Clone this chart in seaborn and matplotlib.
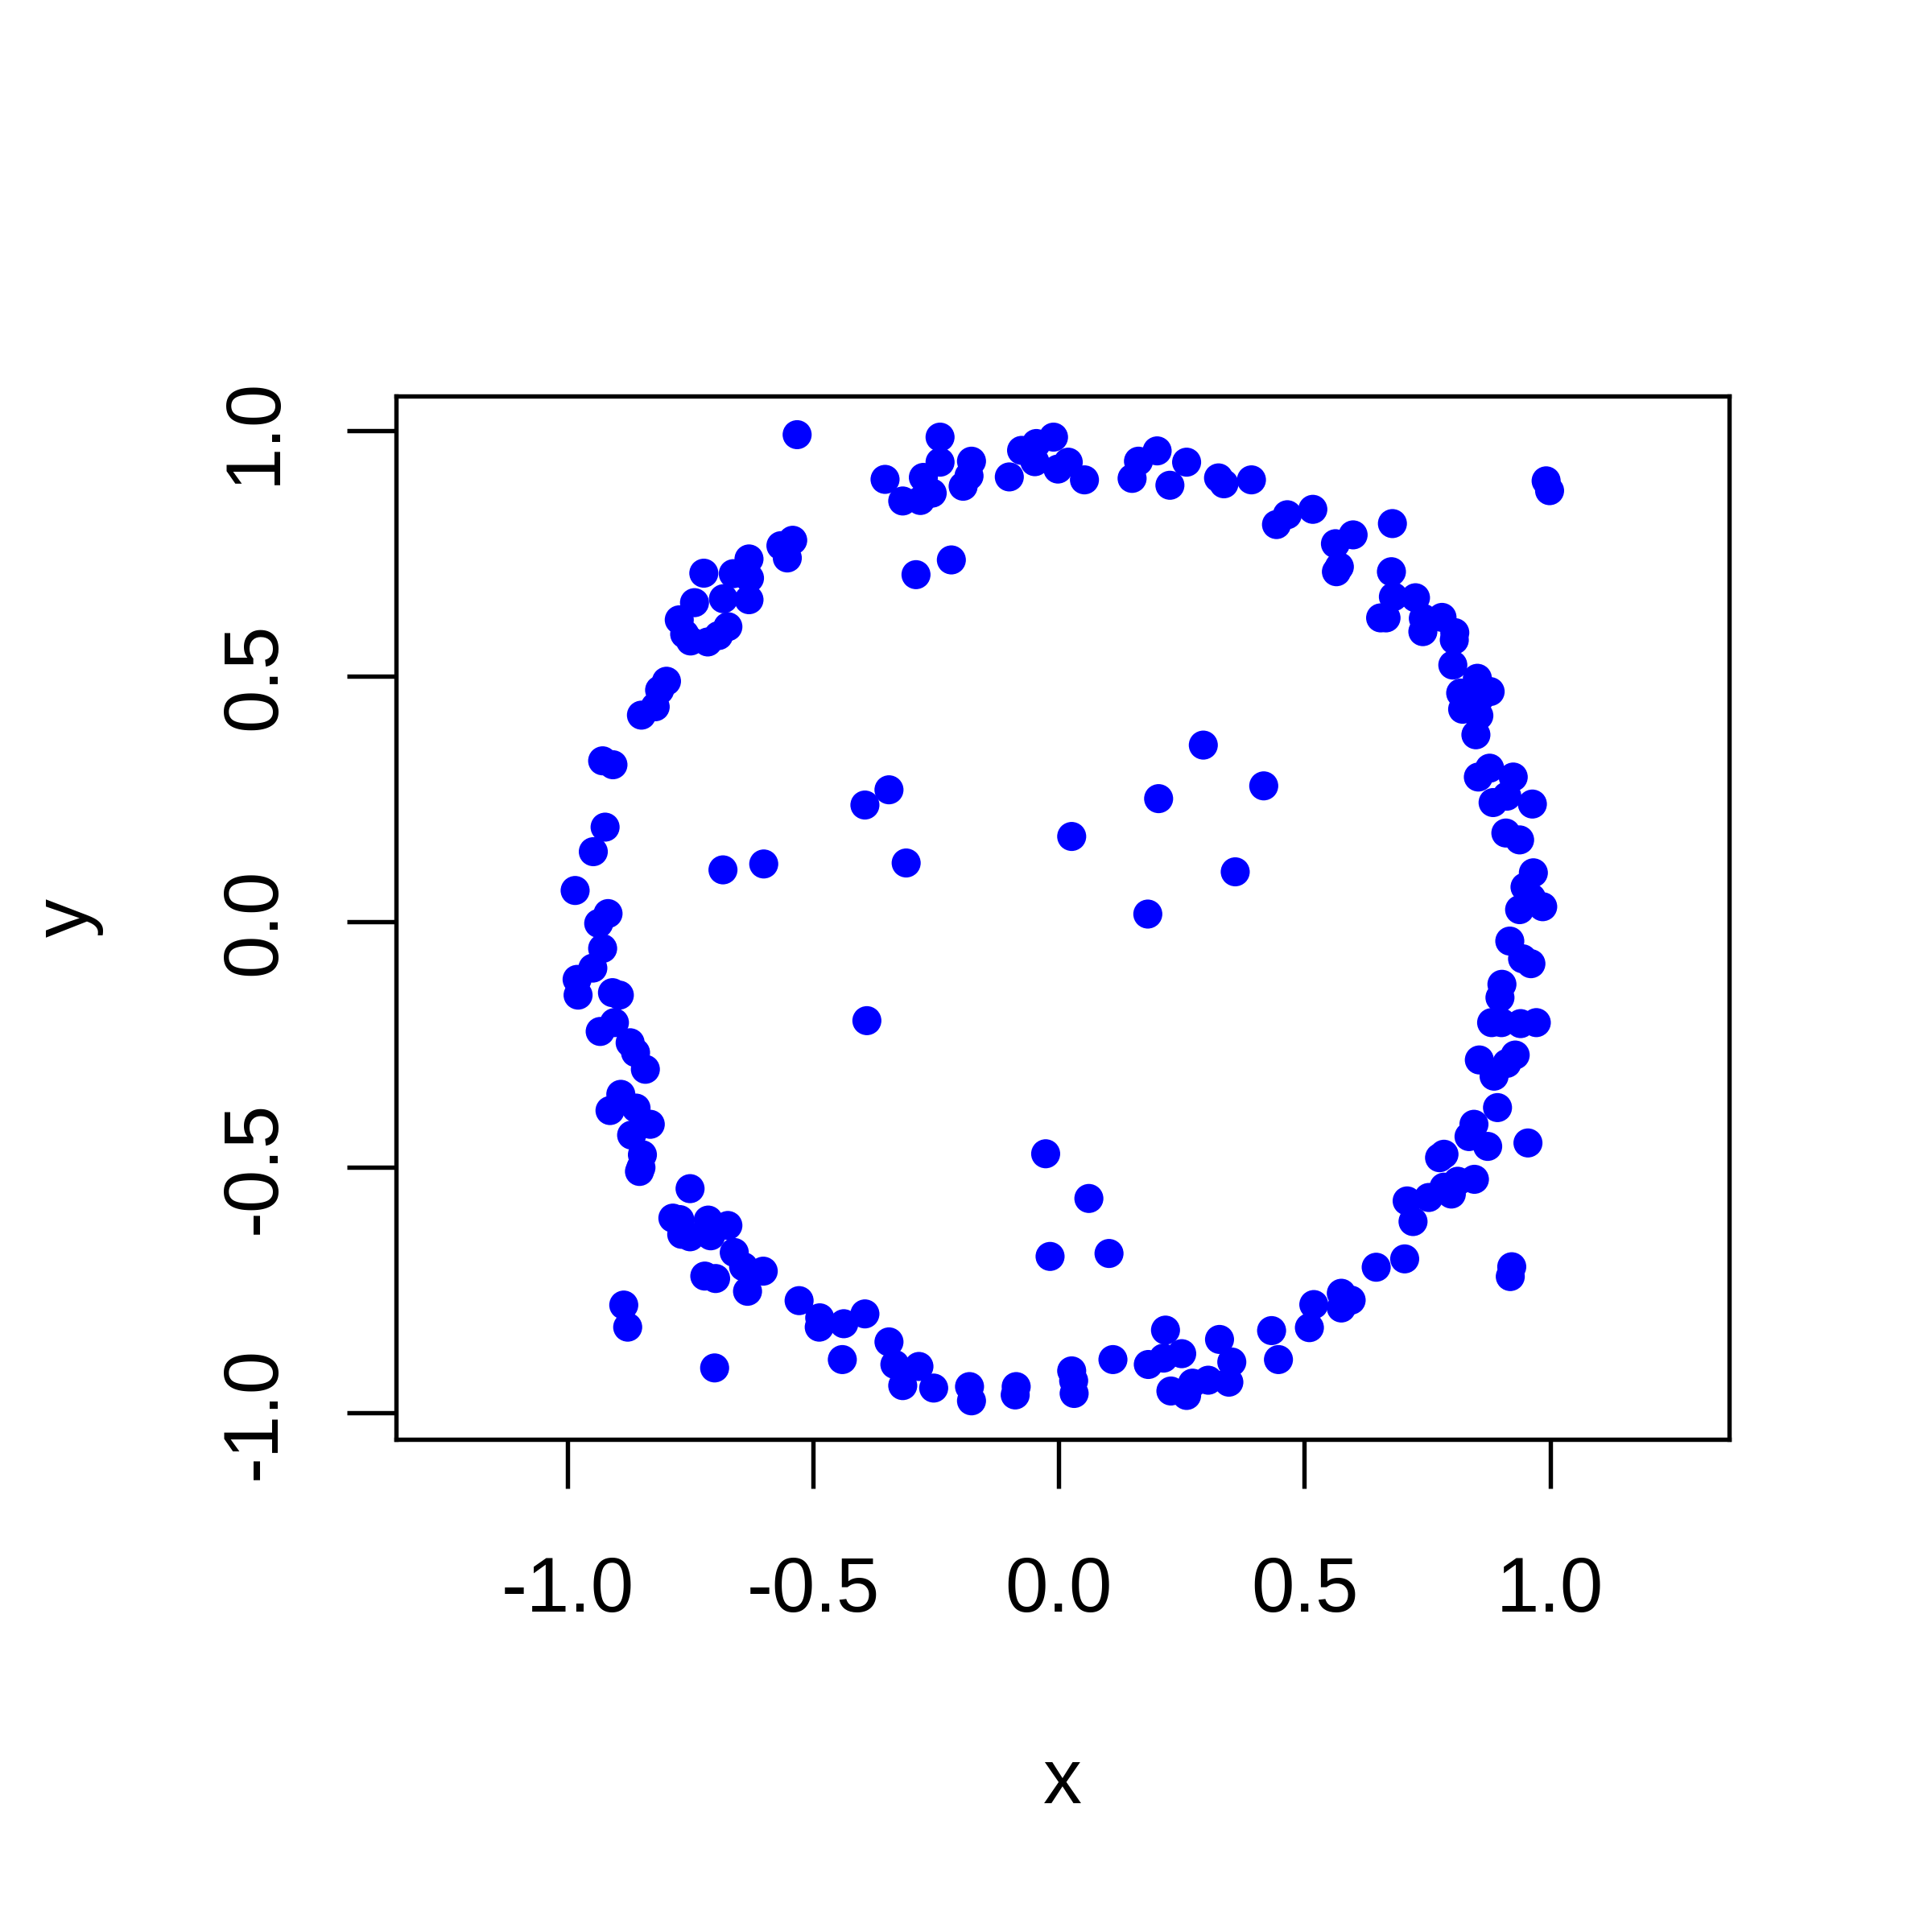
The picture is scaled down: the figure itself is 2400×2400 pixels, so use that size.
import matplotlib
matplotlib.use("Agg")
import matplotlib.pyplot as plt
import seaborn as sns
import pandas as pd

# points, upper-left arc first then around
x = [-0.533, -0.242, -0.354, -0.318, -0.282, -0.258, -0.276, -0.242, -0.219, -0.291,
     -0.542, -0.566, -0.553, -0.631, -0.723, -0.663, -0.630, -0.742, -0.683, -0.631,
     -0.773, -0.762, -0.750, -0.715, -0.693, -0.674, -0.799, -0.813, -0.822, -0.850,
     # top arc
     -0.178, -0.183, -0.195, -0.101, -0.076, -0.046, -0.011, -0.049, -0.002, 0.019,
     0.052, 0.149, 0.162, 0.200, 0.260, 0.226, 0.325, 0.336, 0.392, 0.443,
     0.465, 0.517, 0.563, 0.599, 0.565, 0.571,
     # upper right
     0.679, 0.992, 0.999, 0.677, 0.681, 0.726, 0.655, 0.666, 0.741, 0.742,
     0.780, 0.806, 0.805, 0.802, 0.852, 0.878, 0.818, 0.855, 0.822, 0.855,
     0.849,
     # left side + inner left
     -0.929, -0.908, -0.924, -0.948, -0.985, -0.918, -0.937, -0.929, -0.949, -0.981,
     -0.979, -0.909, -0.895, -0.905, -0.934, -0.873, -0.862, -0.842, -0.684, -0.601,
     -0.395, -0.346, -0.311, -0.391,
     # inner right
     0.294, 0.203, 0.417, 0.026, 0.359, 0.181,
     # right side
     0.854, 0.877, 0.925, 0.884, 0.912, 0.964, 0.910, 0.938, 0.966, 0.949,
     0.938, 0.985, 0.962, 0.918, 0.944, 0.961, 0.902, 0.898, 0.881, 0.901,
     0.940, 0.972, 0.856, 0.929, 0.912, 0.886,
     # lower right
     0.893, 0.845, 0.835, 0.873, 0.955, 0.784, 0.775, 0.846, 0.812, 0.784,
     0.799, 0.753, 0.709, 0.721, 0.704, 0.646, 0.922, 0.919, 0.575, 0.595,
     0.575, 0.519, 0.510,
     # bottom middle
     -0.027, 0.061, -0.018, 0.102, 0.433, 0.447, 0.327, 0.352, 0.346, 0.304,
     0.272, 0.260, 0.228, 0.217, 0.250, 0.213, 0.182, 0.110, 0.026, 0.030,
     0.031, -0.087, -0.089, -0.182, -0.178, -0.255,
     # lower left
     -0.892, -0.914, -0.861, -0.832, -0.870, -0.848, -0.851, -0.854, -0.751, -0.786,
     -0.772, -0.768, -0.751, -0.714, -0.674, -0.709, -0.661, -0.642, -0.602, -0.634,
     -0.721, -0.699, -0.886, -0.878, -0.701, -0.529, -0.487, -0.488, -0.438, -0.395,
     -0.441, -0.346, -0.334, -0.285, -0.318]

y = [0.992, 0.987, 0.901, 0.857, 0.858, 0.873, 0.905, 0.936, 0.737, 0.707,
     0.777, 0.766, 0.741, 0.739, 0.710, 0.709, 0.700, 0.650, 0.658, 0.656,
     0.615, 0.586, 0.572, 0.570, 0.583, 0.601, 0.490, 0.472, 0.438, 0.421,
     0.938, 0.908, 0.887, 0.906, 0.960, 0.974, 0.987, 0.937, 0.922, 0.936,
     0.900, 0.903, 0.938, 0.959, 0.936, 0.889, 0.904, 0.892, 0.900, 0.809,
     0.829, 0.840, 0.770, 0.788, 0.713, 0.723,
     0.811, 0.898, 0.878, 0.713, 0.662, 0.660, 0.619, 0.619, 0.591, 0.618,
     0.620, 0.589, 0.574, 0.523, 0.496, 0.469, 0.466, 0.453, 0.433, 0.420,
     0.381,
     0.328, 0.320, 0.193, 0.143, 0.064, 0.017, -0.003, -0.054, -0.094, -0.117,
     -0.149, -0.144, -0.149, -0.205, -0.223, -0.246, -0.266, -0.300, 0.106, 0.118,
     0.238, 0.269, 0.120, -0.201,
     0.360, 0.251, 0.277, 0.174, 0.102, 0.016,
     0.295, 0.313, 0.295, 0.243, 0.256, 0.240, 0.181, 0.167, 0.100, 0.071,
     0.025, 0.031, 0.049, -0.039, -0.075, -0.085, -0.127, -0.154, -0.205, -0.205,
     -0.207, -0.205, -0.281, -0.271, -0.288, -0.314,
     -0.378, -0.412, -0.437, -0.457, -0.450, -0.473, -0.480, -0.524, -0.528, -0.540,
     -0.554, -0.561, -0.568, -0.610, -0.686, -0.703, -0.702, -0.722, -0.756, -0.770,
     -0.786, -0.779, -0.826,
     -0.472, -0.563, -0.681, -0.675, -0.832, -0.891, -0.850, -0.896, -0.937, -0.933,
     -0.939, -0.964, -0.955, -0.831, -0.879, -0.888, -0.901, -0.891, -0.914, -0.934,
     -0.960, -0.946, -0.963, -0.946, -0.975, -0.949,
     -0.351, -0.384, -0.379, -0.412, -0.434, -0.474, -0.500, -0.508, -0.543, -0.603,
     -0.606, -0.636, -0.641, -0.607, -0.618, -0.639, -0.673, -0.702, -0.711, -0.752,
     -0.721, -0.726, -0.780, -0.825, -0.908, -0.771, -0.806, -0.825, -0.818, -0.798,
     -0.891, -0.855, -0.901, -0.905, -0.944]

ticks = [-1.0, -0.5, 0.0, 0.5, 1.0]
tick_labels = ["-1.0", "-0.5", "0.0", "0.5", "1.0"]

df = pd.DataFrame({"x": x, "y": y})

sns.set_style("white")
plt.rcParams["font.family"] = ["Liberation Sans", "DejaVu Sans"]

fig = plt.figure(figsize=(8, 8), dpi=300)
ax = fig.add_axes([0.2049, 0.2551, 0.6902, 0.5400])

sns.scatterplot(data=df, x="x", y="y", ax=ax, color="blue", s=75,
                linewidth=0, edgecolor="none")

ax.set_xlim(-1.350, 1.365)
ax.set_ylim(-1.053, 1.071)

ax.set_xticks(ticks)
ax.set_xticklabels(tick_labels)
ax.set_yticks(ticks)
ax.set_yticklabels(tick_labels, rotation=90, va="center")

ax.tick_params(axis="both", direction="out", length=14.6, width=1.3,
               labelsize=23, color="black", labelcolor="black")
ax.tick_params(axis="x", pad=20)
ax.tick_params(axis="y", pad=16.5)
ax.tick_params(left=True, bottom=True)

for sp in ax.spines.values():
    sp.set_visible(True)
    sp.set_linewidth(1.3)
    sp.set_color("black")

ax.set_xlabel("x", fontsize=23, va="center", color="black")
ax.set_ylabel("y", fontsize=23, va="center", color="black")
ax.xaxis.set_label_coords(0.5, -0.33)
ax.yaxis.set_label_coords(-0.246, 0.5)

fig.savefig("out.png", dpi=300, facecolor="white")
